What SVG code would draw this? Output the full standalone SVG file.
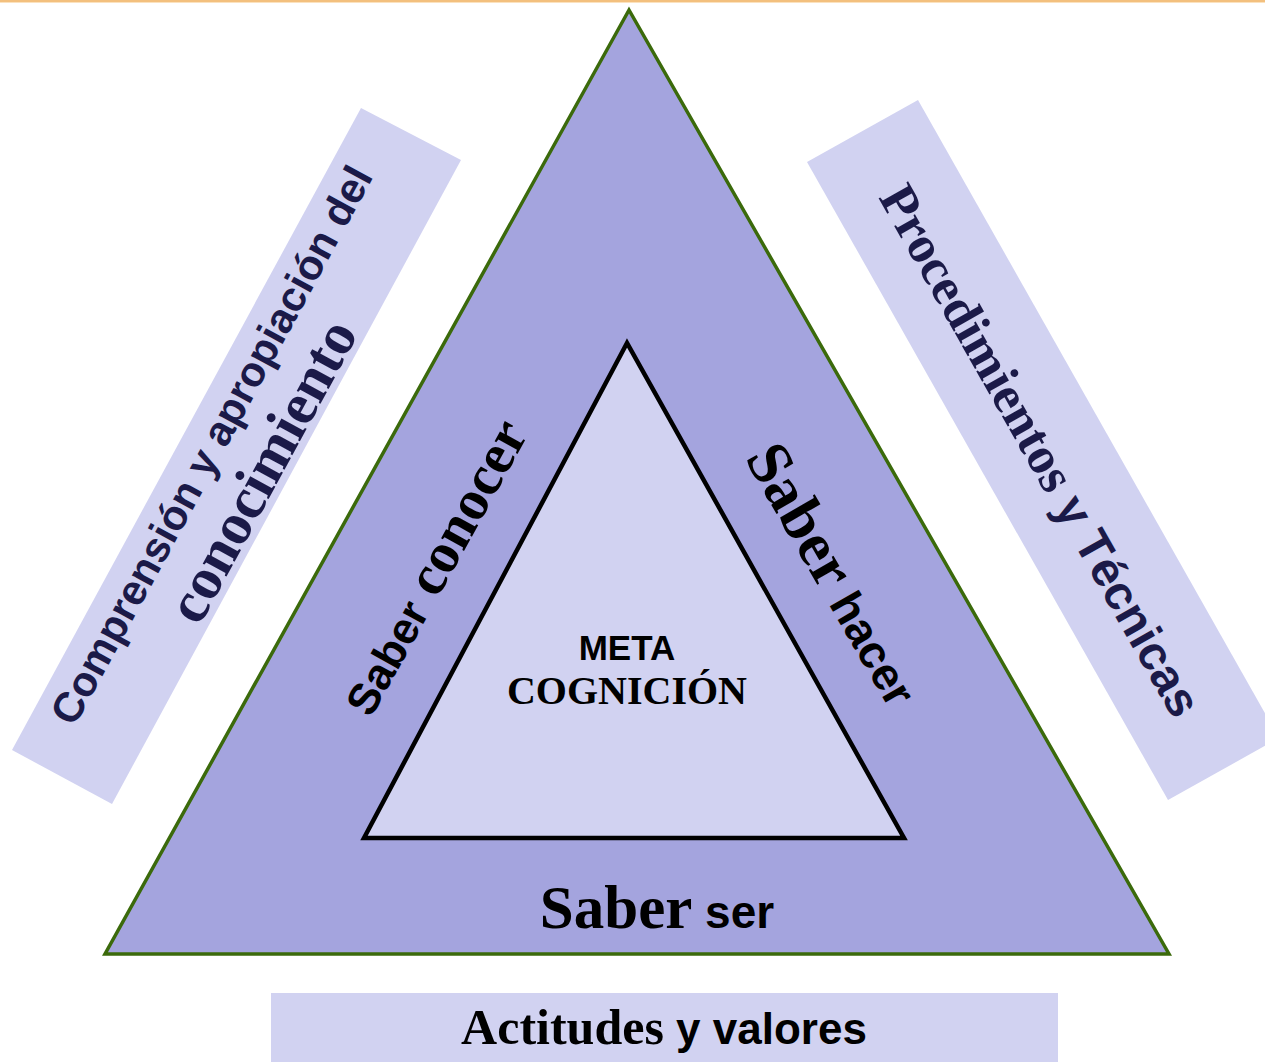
<svg xmlns="http://www.w3.org/2000/svg" width="1265" height="1062" viewBox="0 0 1265 1062">
  <style>
    .light { fill: #d1d2f1; }
    .serif { font-family: "Liberation Serif", "Times New Roman", serif; font-weight: bold; }
    .sans { font-family: "Liberation Sans", Arial, sans-serif; font-weight: bold; }
    .navy { fill: #1b1a48; }
    .blk { fill: #000000; }
  </style>
  <rect x="0" y="0" width="1265" height="1062" fill="#ffffff"/>
  <rect x="0" y="0" width="1265" height="2" fill="#f3c07e"/>
  <rect x="0" y="2" width="1265" height="1" fill="#fbe2bf"/>

  <g id="outer-triangle">
    <polygon points="629,10 105,954 1169,954" fill="#a4a4de" stroke="#3b6a0b" stroke-width="3.5" stroke-linejoin="miter"/>
  </g>
  <g id="inner-triangle">
    <polygon points="627,343 364,838 904,838" class="light" stroke="#000000" stroke-width="4.5" stroke-linejoin="miter"/>
  </g>

  <g id="box-left">
    <polygon points="361,108 461,160 112,804 12,750" class="light"/>
    <g transform="translate(224,452) rotate(-61.5)">
      <text x="0" y="0" text-anchor="middle" class="sans navy" font-size="42">Comprensión y apropiación del</text>
    </g>
    <g transform="translate(279,480) rotate(-61.5)">
      <text x="0" y="0" text-anchor="middle" class="serif navy" font-size="59">conocimiento</text>
    </g>
  </g>

  <g id="box-right">
    <polygon points="807,162 918,100 1279,738 1168,800" class="light"/>
    <g transform="translate(1026,459) rotate(60.5)">
      <text x="0" y="0" text-anchor="middle" class="navy"><tspan class="serif" font-size="52">Procedimientos</tspan><tspan class="sans" font-size="48"> y Técnicas</tspan></text>
    </g>
  </g>

  <g id="box-bottom">
    <rect x="271" y="993" width="787" height="69" class="light"/>
    <text x="664" y="1044" text-anchor="middle" class="blk"><tspan class="serif" font-size="50">Actitudes</tspan><tspan class="sans" font-size="44"> y valores</tspan></text>
  </g>

  <g id="saber-conocer">
    <g transform="translate(450,576) rotate(-61)">
      <text x="0" y="0" text-anchor="middle" class="blk"><tspan class="sans" font-size="44">Saber</tspan><tspan class="serif" font-size="57"> conocer</tspan></text>
    </g>
  </g>

  <g id="saber-hacer">
    <g transform="translate(817,584) rotate(60)">
      <text x="0" y="0" text-anchor="middle" class="blk"><tspan class="serif" font-size="62">Saber</tspan><tspan class="sans" font-size="46"> hacer</tspan></text>
    </g>
  </g>

  <g id="saber-ser">
    <text x="657" y="928" text-anchor="middle" class="blk"><tspan class="serif" font-size="61">Saber</tspan><tspan class="sans" font-size="46"> ser</tspan></text>
  </g>

  <g id="metacognicion">
    <text x="627" y="660" text-anchor="middle" class="sans blk" font-size="35">META</text>
    <text x="627" y="704" text-anchor="middle" class="serif blk" font-size="40">COGNICIÓN</text>
  </g>
</svg>
